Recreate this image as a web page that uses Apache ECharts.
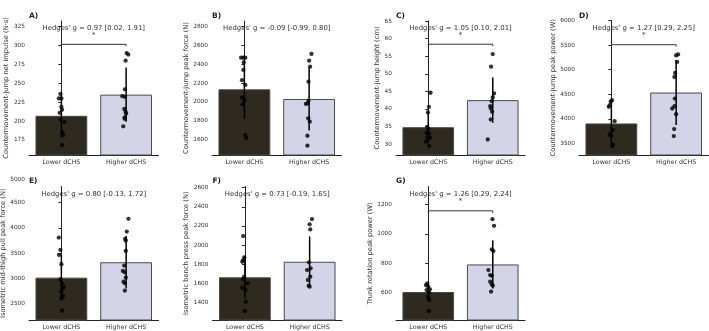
<!DOCTYPE html>
<html>
<head>
<meta charset="utf-8">
<script src="https://cdn.jsdelivr.net/npm/echarts@6/dist/echarts.min.js"></script>
<style>
  html, body { margin: 0; background: #fff; }
  #chart { width: 709px; height: 331px; }
</style>
</head>
<body>
<div id="chart"></div>
<script>
/* ---------- data ---------- */
const groups = ['Lower dCHS', 'Higher dCHS'];
const panelTags = ['A)', 'B)', 'C)', 'D)', 'E)', 'F)', 'G)'];
const yTitles = [
  'Countermovement-jump net impulse (N·s)',
  'Countermovement-jump peak force (N)',
  'Countermovement-jump height (cm)',
  'Countermovement-jump peak power (W)',
  'Isometric mid-thigh pull peak force (N)',
  'Isometric bench press peak force (N)',
  'Trunk rotation peak power (W)',
];
const hedgesText = [
  "Hedges' g = 0.97 [0.02, 1.91]",
  "Hedges' g = -0.09 [-0.99, 0.80]",
  "Hedges' g = 1.05 [0.10, 2.01]",
  "Hedges' g = 1.27 [0.29, 2.25]",
  "Hedges' g = 0.80 [-0.13, 1.72]",
  "Hedges' g = 0.73 [-0.19, 1.65]",
  "Hedges' g = 1.26 [0.29, 2.24]",
];
const significant = [true, false, true, true, false, false, true];

// bar heights (mean) and error bar half-lengths (SD): [lower, higher]
const groupMeans = [[207, 235], [2133, 2030], [34.8, 42.5], [3905, 4534], [3016, 3321], [1662, 1825], [605, 792]];
const groupSDs = [[29, 36], [315, 335], [4.4, 6.4], [470, 660], [450, 520], [222, 265], [60, 164]];

const yTicks = [
  [175, 200, 225, 250, 275, 300, 325],
  [1600, 1800, 2000, 2200, 2400, 2600, 2800],
  [30, 35, 40, 45, 50, 55, 60, 65],
  [3500, 4000, 4500, 5000, 5500, 6000],
  [2500, 3000, 3500, 4000, 4500],
  [1400, 1600, 1800, 2000, 2200, 2400, 2600],
  [600, 800, 1000, 1200],
];

// individual participants: [jitter, value]
const lowerDots = [
  [[-0.015, 236], [-0.04, 230], [0, 230], [0, 219], [0.01, 215], [-0.026, 211], [-0.015, 202], [0.046, 199], [0.015, 185], [0.026, 181], [0.01, 168]],
  [[-0.05, 2470], [-0.015, 2470], [0.015, 2470], [-0.01, 2420], [-0.015, 2340], [-0.036, 2230], [0.015, 2180], [-0.036, 2045], [0, 2020], [-0.026, 1975], [0.015, 1645], [0.03, 1615]],
  [[0.036, 44.6], [0.01, 40.6], [-0.005, 39.0], [-0.015, 34.9], [0, 34.4], [-0.026, 33.2], [0.015, 33.0], [-0.015, 31.9], [0.026, 31.8], [-0.036, 30.7], [0.015, 29.5]],
  [[0.01, 4378], [-0.01, 4350], [-0.026, 4277], [-0.04, 4243], [0.05, 3952], [0.02, 3770], [-0.026, 3682], [0, 3648], [0.026, 3466], [0.01, 3446]],
  [[-0.04, 3810], [-0.015, 3565], [-0.036, 3466], [0, 3281], [-0.015, 2983], [0.01, 2904], [0.036, 2837], [0.015, 2804], [0, 2738], [0.026, 2652], [0, 2606], [0.01, 2361]],
  [[-0.026, 2094], [-0.01, 1871], [-0.026, 1843], [-0.04, 1825], [-0.01, 1668], [-0.026, 1644], [0.04, 1599], [-0.04, 1553], [0.01, 1529], [0.015, 1407], [0, 1309]],
  [[-0.015, 663], [-0.036, 652], [0, 641], [0.026, 623], [-0.026, 618], [0.015, 602], [0, 573], [0, 562], [0.015, 550], [0.01, 476]],
];
const higherDots = [
  [[0.008, 290], [0.033, 288], [-0.008, 280], [-0.018, 242], [-0.059, 233], [-0.018, 232], [-0.028, 216], [-0.008, 212], [0, 210], [-0.023, 205], [-0.023, 203], [-0.044, 193]],
  [[0.036, 2510], [0, 2438], [0.015, 2374], [-0.01, 2214], [-0.01, 2012], [-0.026, 1984], [-0.05, 1977], [-0.015, 1824], [0.01, 1788], [-0.026, 1638], [-0.026, 1532]],
  [[0, 55.6], [-0.026, 52], [0.02, 44.4], [0, 43.3], [-0.015, 42.2], [-0.04, 40.8], [-0.03, 40.1], [-0.01, 39.2], [-0.03, 37], [-0.077, 31.3]],
  [[0.03, 5310], [0, 5290], [0.015, 5155], [-0.015, 4932], [-0.026, 4851], [-0.02, 4412], [-0.026, 4256], [-0.06, 4209], [0, 4094], [-0.03, 3790], [-0.036, 3648]],
  [[0.036, 4180], [0.01, 3929], [-0.015, 3783], [-0.005, 3750], [-0.005, 3545], [-0.03, 3254], [-0.05, 3148], [-0.02, 3122], [-0.005, 3016], [-0.04, 2937], [-0.02, 2904], [-0.02, 2758]],
  [[0.036, 2272], [0, 2217], [0.01, 2164], [-0.01, 1819], [0.015, 1756], [-0.04, 1738], [0.01, 1668], [-0.026, 1634], [-0.015, 1574], [0, 1564]],
  [[-0.005, 1099], [0.02, 1054], [-0.015, 894], [0.01, 883], [-0.067, 754], [-0.04, 720], [-0.015, 715], [-0.04, 675], [-0.015, 657], [0, 648], [-0.026, 607]],
];

/* ---------- layout ---------- */
const layout = [
  { left: 29,    top: 21,    width: 129.5, height: 134,   yMin: 155.1, yMax: 332.5, nameGap: 15,   bracket: 301.6, drop: 2.6 },
  { left: 212,   top: 21,    width: 129.5, height: 134,   yMin: 1433,  yMax: 2861,  nameGap: 18.5 },
  { left: 396,   top: 21,    width: 129,   height: 134,   yMin: 26.9,  yMax: 65,    nameGap: 13.5, bracket: 58.4, drop: 0.55 },
  { left: 579,   top: 20.5,  width: 129.5, height: 134.5, yMin: 3263,  yMax: 6000,  nameGap: 17,   bracket: 5507, drop: 40 },
  { left: 29,    top: 186.5, width: 129.5, height: 133.5, yMin: 2177,  yMax: 4821,  nameGap: 14.5 },
  { left: 212.5, top: 186.5, width: 129.5, height: 133.5, yMin: 1215,  yMax: 2613,  nameGap: 19 },
  { left: 396,   top: 186.5, width: 129,   height: 133.5, yMin: 415,   yMax: 1321,  nameGap: 19,   bracket: 1156, drop: 14 },
];

const FONT = 'DejaVu Sans';
const INK = '#222';
const barColors = ['#2e2a1f', '#d4d4e8'];

const grids = [], xAxes = [], yAxes = [], series = [], texts = [];

layout.forEach((b, i) => {
  grids.push({ left: b.left, top: b.top, width: b.width, height: b.height, outerBoundsMode: 'none' });

  xAxes.push({
    type: 'category', gridIndex: i, data: groups,
    axisLine: { lineStyle: { color: INK, width: 1 } },
    axisTick: { alignWithLabel: true, length: 3, lineStyle: { color: INK } },
    axisLabel: { fontFamily: FONT, fontSize: 6.3, color: '#333', margin: 4 },
  });
  xAxes.push({ type: 'value', gridIndex: i, min: -0.5, max: 1.5, show: false });

  yAxes.push({
    type: 'value', gridIndex: i, min: b.yMin, max: b.yMax,
    name: yTitles[i], nameLocation: 'middle', nameGap: b.nameGap,
    nameTextStyle: { fontFamily: FONT, fontSize: 6.7, color: '#333' },
    axisLine: { show: true, lineStyle: { color: INK, width: 1 } },
    axisTick: { show: true, length: 3, customValues: yTicks[i], lineStyle: { color: INK } },
    axisLabel: {
      customValues: yTicks[i], fontFamily: FONT, fontSize: 5.8, color: '#333', margin: 4,
      formatter: (v) => String(v),
    },
    splitLine: { show: false },
  });

  series.push({
    type: 'bar', xAxisIndex: 2 * i, yAxisIndex: i, barWidth: '80%', z: 2, silent: true,
    data: groupMeans[i].map((v, k) => ({
      value: v,
      itemStyle: { color: barColors[k], borderColor: '#4a4a4a', borderWidth: 1 },
    })),
  });

  series.push({
    type: 'custom', xAxisIndex: 2 * i + 1, yAxisIndex: i, z: 3, silent: true,
    encode: { x: 0, y: [1, 2] },
    data: groupMeans[i].map((m, k) => [k, m - groupSDs[i][k], m + groupSDs[i][k]]),
    renderItem: (params, api) => {
      const p1 = api.coord([api.value(0), api.value(1)]);
      const p2 = api.coord([api.value(0), api.value(2)]);
      return {
        type: 'line',
        shape: { x1: p1[0], y1: p1[1], x2: p2[0], y2: p2[1] },
        style: { stroke: '#000', lineWidth: 1.5 },
      };
    },
  });

  series.push({
    type: 'scatter', xAxisIndex: 2 * i + 1, yAxisIndex: i, z: 4, silent: true,
    symbolSize: 4.3, itemStyle: { color: '#000' },
    data: lowerDots[i].map(([j, v]) => [j, v]).concat(higherDots[i].map(([j, v]) => [1 + j, v])),
  });

  const cx = b.left + b.width / 2;
  if (significant[i]) {
    // significance bracket between the two groups
    series.push({
      type: 'custom', xAxisIndex: 2 * i + 1, yAxisIndex: i, z: 3, silent: true,
      encode: { x: [0, 1], y: 2 },
      data: [[0, 1, b.bracket, b.bracket - b.drop]],
      renderItem: (params, api) => {
        const x0 = api.value(0), x1 = api.value(1), y = api.value(2), yd = api.value(3);
        const pts = [[x0, yd], [x0, y], [x1, y], [x1, yd]].map((p) => api.coord(p));
        return {
          type: 'polyline',
          shape: { points: pts },
          style: { stroke: '#333', lineWidth: 1, fill: null },
        };
      },
    });
    texts.push({
      type: 'text', x: cx, y: 21 + (b.top > 100 ? 165.5 : 0) + 14.5,
      style: { text: '*', fontFamily: FONT, fontSize: 7, fill: '#333', align: 'center', verticalAlign: 'middle' },
    });
  }

  const rowTop = b.top > 100 ? 186.5 : 21;
  texts.push({
    type: 'text', x: b.left, y: rowTop - 5.3,
    style: { text: panelTags[i], fontFamily: FONT, fontSize: 7.5, fontWeight: 'bold', fill: '#222', align: 'left', verticalAlign: 'middle' },
  });
  texts.push({
    type: 'text', x: cx, y: rowTop + 7.3,
    style: { text: hedgesText[i], fontFamily: FONT, fontSize: 6.9, fill: '#333', align: 'center', verticalAlign: 'middle' },
  });
});

// stray top tick label of panel E sits above its axis
texts.push({
  type: 'text', x: layout[4].left - 4, y: 179.3,
  style: { text: '5000', fontFamily: FONT, fontSize: 5.8, fill: '#333', align: 'right', verticalAlign: 'middle' },
});

const chart = echarts.init(document.getElementById('chart'));
chart.setOption({
  animation: false,
  backgroundColor: '#fff',
  grid: grids,
  xAxis: xAxes,
  yAxis: yAxes,
  series: series,
  graphic: texts,
});
</script>
</body>
</html>
